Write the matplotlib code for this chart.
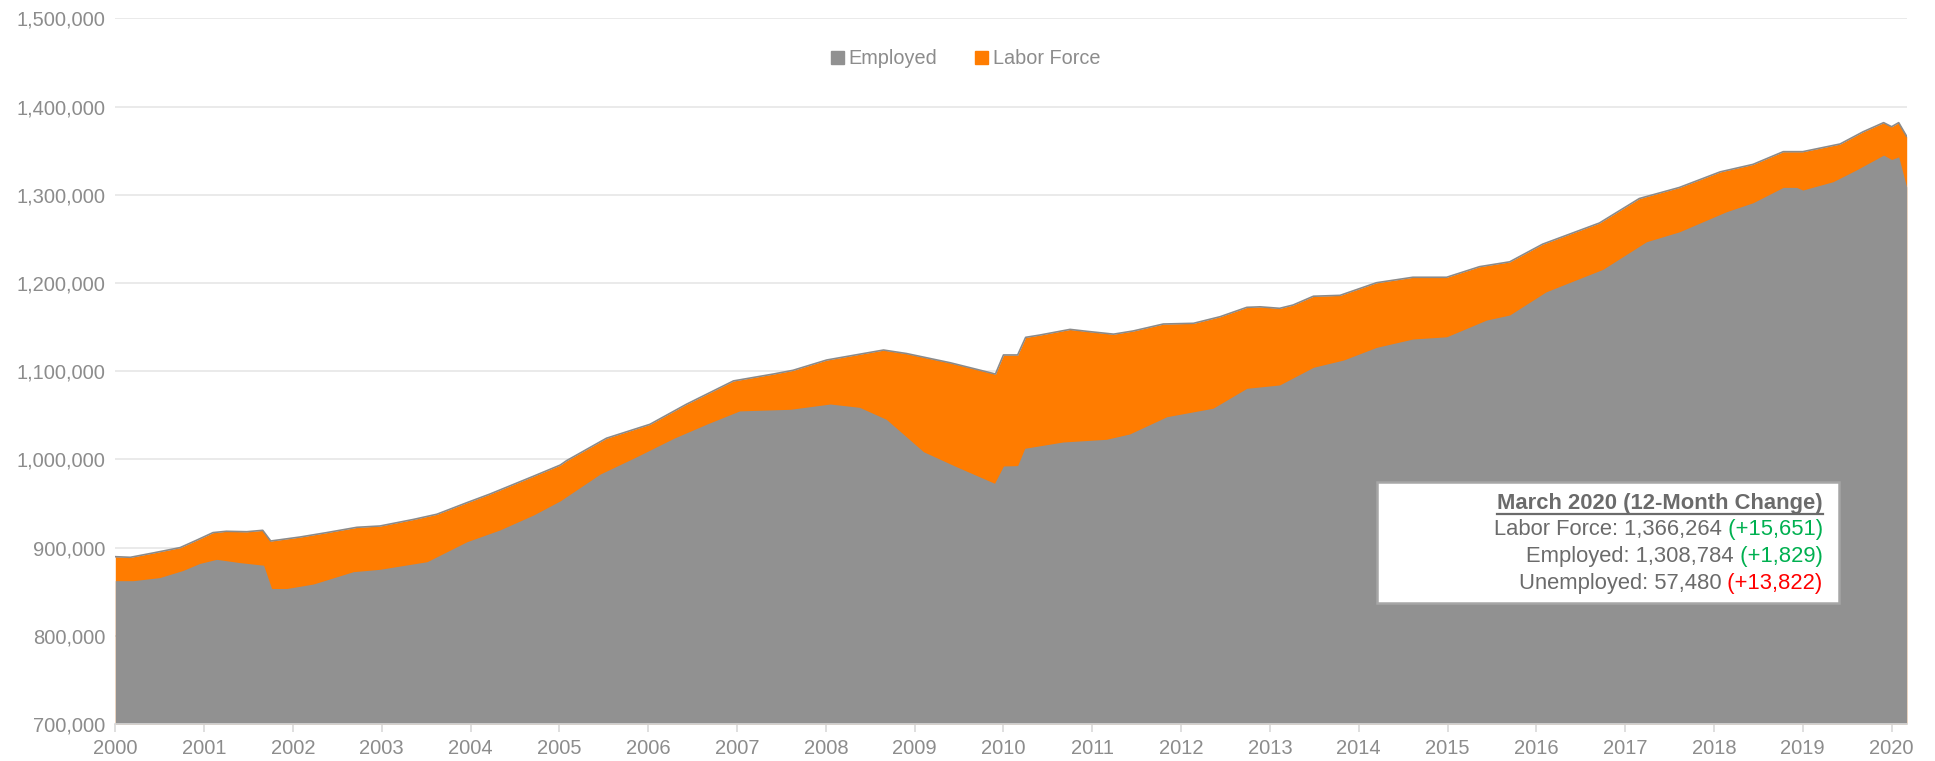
import matplotlib
matplotlib.use("Agg")
import matplotlib.pyplot as plt
from matplotlib.patches import Patch, Rectangle
from matplotlib.lines import Line2D
from matplotlib.ticker import FuncFormatter

plt.rcParams['font.family'] = ['Liberation Sans', 'DejaVu Sans']

# values (thousands), dates as fractional years
lf_t = [2000.0, 2000.17, 2000.43, 2000.73, 2000.92, 2001.10, 2001.25, 2001.48, 2001.66, 2001.75,
        2002.08, 2002.38, 2002.72, 2002.98, 2003.36, 2003.62, 2003.96, 2004.22, 2004.71, 2005.01,
        2005.08, 2005.53, 2006.02, 2006.43, 2006.96, 2007.41, 2007.63, 2008.01, 2008.31, 2008.65,
        2008.91, 2009.40, 2009.91, 2010.0, 2010.16, 2010.25, 2010.41, 2010.75, 2010.94, 2011.24,
        2011.46, 2011.80, 2012.14, 2012.44, 2012.74, 2012.89, 2013.11, 2013.26, 2013.49, 2013.79,
        2014.20, 2014.61, 2014.99, 2015.36, 2015.70, 2016.07, 2016.71, 2017.16, 2017.61, 2018.07,
        2018.44, 2018.78, 2019.00, 2019.42, 2019.68, 2019.91, 2020.00, 2020.08, 2020.17]
lf_v = [889.7, 889.0, 894.0, 900.0, 908.6, 917.0, 918.5, 918.0, 919.6, 907.5,
        912.0, 917.0, 923.0, 924.5, 932.0, 937.8, 951.0, 960.8, 981.0, 993.6,
        998.5, 1024.0, 1039.8, 1062.5, 1089.0, 1096.8, 1101.0, 1112.7, 1118.0, 1124.0,
        1120.0, 1109.6, 1096.8, 1118.4, 1118.4, 1138.4, 1141.0, 1147.4, 1145.2, 1142.0,
        1145.6, 1153.5, 1154.3, 1161.8, 1172.4, 1173.0, 1171.3, 1175.0, 1185.0, 1186.0,
        1200.3, 1206.5, 1206.5, 1218.5, 1224.0, 1244.0, 1268.0, 1295.8, 1308.3, 1326.0,
        1334.5, 1348.9, 1348.9, 1357.6, 1371.5, 1381.8, 1377.2, 1381.8, 1366.264]

emp_t = [2000.0, 2000.2, 2000.50, 2000.76, 2000.95, 2001.14, 2001.40, 2001.67, 2001.76, 2001.93,
         2002.23, 2002.68, 2002.98, 2003.51, 2003.96, 2004.33, 2004.71, 2005.01, 2005.46, 2005.87,
         2006.29, 2006.66, 2007.03, 2007.60, 2008.05, 2008.38, 2008.68, 2009.10, 2009.47, 2009.90,
         2010.0, 2010.16, 2010.24, 2010.67, 2011.16, 2011.42, 2011.84, 2012.36, 2012.74, 2013.11,
         2013.49, 2013.83, 2014.20, 2014.61, 2014.99, 2015.44, 2015.70, 2016.11, 2016.75, 2017.24,
         2017.61, 2018.14, 2018.44, 2018.78, 2018.93, 2019.00, 2019.34, 2019.60, 2019.91, 2020.00,
         2020.08, 2020.17]
emp_v = [862.5, 862.5, 866.0, 874.0, 882.0, 886.7, 883.0, 880.0, 853.6, 853.6,
         858.7, 872.7, 875.4, 884.0, 906.7, 920.0, 937.0, 953.0, 983.4, 1003.0,
         1024.0, 1040.0, 1055.0, 1056.8, 1062.8, 1059.0, 1045.5, 1008.7, 991.7, 972.9,
         992.5, 993.0, 1012.6, 1019.7, 1022.8, 1028.8, 1048.4, 1058.0, 1080.6, 1084.4,
         1104.4, 1112.7, 1127.0, 1136.5, 1139.0, 1158.0, 1163.7, 1190.0, 1215.5, 1246.8,
         1258.0, 1280.8, 1291.0, 1308.4, 1308.4, 1305.4, 1314.8, 1328.0, 1345.0, 1340.0,
         1343.0, 1308.784]

years = list(range(2000, 2021))
note_title = "March 2020 (12-Month Change)"
note_rows = [("Labor Force: 1,366,264", " (+15,651)", "#00B050"),
             ("Employed: 1,308,784", " (+1,829)", "#00B050"),
             ("Unemployed: 57,480", " (+13,822)", "#FF0000")]

grey_fill = "#919191"
orange = "#FF7C00"
txt = "#8C8C8C"

fig = plt.figure(figsize=(19.35, 7.61), dpi=100)
ax = fig.add_axes([115.3 / 1935, 1 - 724 / 761, (1906.7 - 115.3) / 1935, (724 - 18.4) / 761])

lf = [v * 1000 for v in lf_v]
emp = [v * 1000 for v in emp_v]
ax.fill_between(lf_t, 700000, lf, color=orange, lw=0, zorder=2)
ax.plot(lf_t, lf, color="#8A8A8A", lw=1.2, zorder=3)
ax.fill_between(emp_t, 700000, emp, color=grey_fill, lw=0, zorder=4)

ax.set_xlim(2000, 2020.17)
ax.set_ylim(700000, 1500000)
ax.set_xticks(years)
ax.set_yticks(range(700000, 1500001, 100000))
ax.yaxis.set_major_formatter(FuncFormatter(lambda v, p: f"{int(v):,}"))
ax.grid(axis="y", color="#E6E6E6", lw=1.2, zorder=0)
ax.set_axisbelow(True)
for s in ["top", "right", "left"]:
    ax.spines[s].set_visible(False)
ax.spines["bottom"].set_color("#D9D9D9")
ax.spines["bottom"].set_linewidth(1.2)
ax.spines["bottom"].set_zorder(5)
ax.tick_params(axis="x", colors="#D9D9D9", length=6, width=1.2, labelcolor=txt, labelsize=14.5, pad=5)
ax.tick_params(axis="y", length=0, labelcolor=txt, labelsize=14.5, pad=7)

handles = [Patch(color=grey_fill, label="Employed"), Patch(color=orange, label="Labor Force")]
fig.legend(handles=handles, loc="center", bbox_to_anchor=(0.499, 1 - 59 / 761), ncol=2, frameon=False,
           fontsize=14.3, labelcolor=txt, handlelength=0.65, handleheight=0.65, handletextpad=0.25,
           columnspacing=1.9)

# annotation box (figure pixel coords)
W, H = 1935, 761
box = Rectangle((1377 / W, 1 - 602.7 / H), (1839 - 1377) / W, (602.7 - 481.7) / H,
                transform=fig.transFigure, facecolor="white", edgecolor="#A6A6A6", lw=1.8, zorder=10)
fig.patches.append(box)

xr = 1822.7 / W
dark = "#6B6B6B"
fs = 15.8
fig.canvas.draw()
r = fig.canvas.get_renderer()
t = fig.text(xr, 1 - 503.3 / H, note_title, ha="right", va="center", fontsize=fs, fontweight="bold",
             color=dark, zorder=11)
bb = t.get_window_extent(r)
fig.add_artist(Line2D([bb.x0 / W, bb.x1 / W], [(bb.y0 - 0.5) / H, (bb.y0 - 0.5) / H],
                      transform=fig.transFigure, color=dark, lw=1.6, zorder=11))
ys = [530, 556.5, 583]
for (a, b, c), yy in zip(note_rows, ys):
    tb = fig.text(xr, 1 - yy / H, b, ha="right", va="center", fontsize=fs, color=c, zorder=11)
    bb = tb.get_window_extent(r)
    fig.text(bb.x0 / W, 1 - yy / H, a, ha="right", va="center", fontsize=fs, color=dark, zorder=11)

fig.savefig("out.png", dpi=100)
